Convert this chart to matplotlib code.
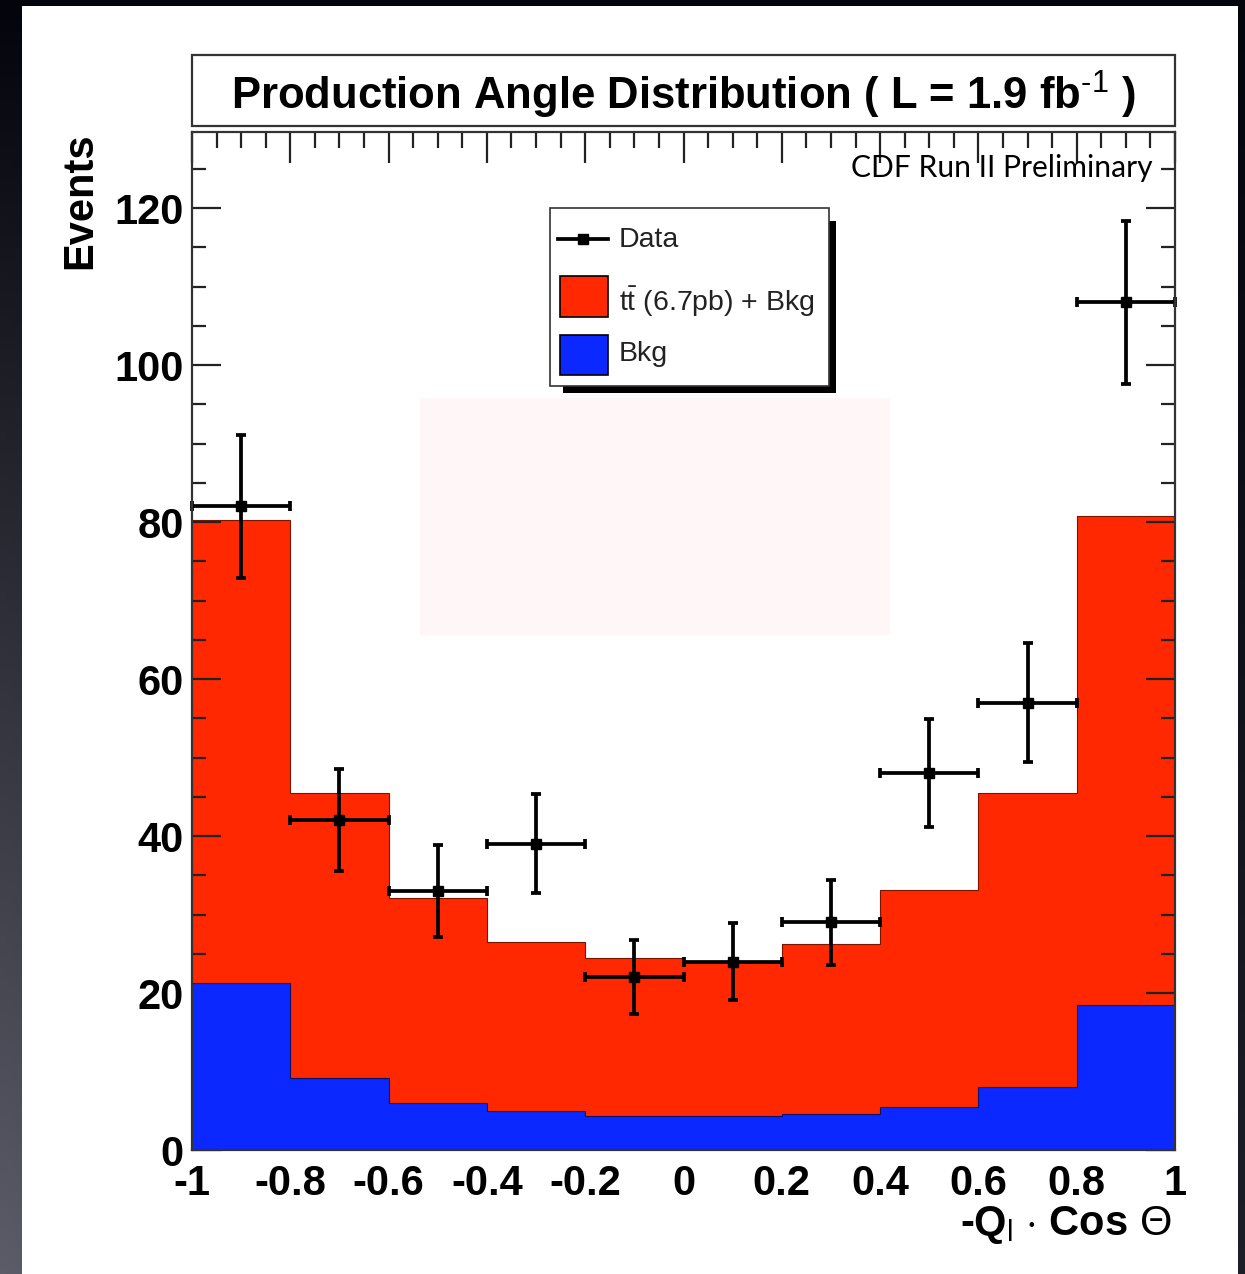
import numpy as np
import matplotlib
matplotlib.use("Agg")
import matplotlib.pyplot as plt
from matplotlib.patches import Rectangle
from matplotlib.lines import Line2D
from matplotlib import font_manager
from matplotlib.ticker import MultipleLocator

# ---------------- data ----------------
bin_edges = [-1.0, -0.8, -0.6, -0.4, -0.2, 0.0, 0.2, 0.4, 0.6, 0.8, 1.0]
ttbar_plus_bkg = [80.3, 45.5, 32.1, 26.5, 24.5, 23.9, 26.2, 33.1, 45.5, 80.8]
bkg = [21.3, 9.2, 6.0, 5.0, 4.3, 4.3, 4.6, 5.5, 8.0, 18.5]
data_counts = [82, 42, 33, 39, 22, 24, 29, 48, 57, 108]
data_err = [9.1, 6.5, 5.8, 6.3, 4.7, 4.9, 5.4, 6.9, 7.6, 10.4]
x_ticks = [-1, -0.8, -0.6, -0.4, -0.2, 0, 0.2, 0.4, 0.6, 0.8, 1]
x_tick_labels = ["-1", "-0.8", "-0.6", "-0.4", "-0.2", "0", "0.2", "0.4", "0.6", "0.8", "1"]
y_ticks = [0, 20, 40, 60, 80, 100, 120]
y_tick_labels = ["0", "20", "40", "60", "80", "100", "120"]

W, H = 1245, 1274
DPI = 100
RED = "#ff2800"
BLUE = "#0a28ff"

names = {f.name for f in font_manager.fontManager.ttflist}
TITLE_FONT = "Liberation Sans Narrow" if "Liberation Sans Narrow" in names else "Liberation Sans"
TITLE_SIZE = 33 if TITLE_FONT == "Liberation Sans Narrow" else 31.4
SANS = "Liberation Sans"
GILL = "Lato" if "Lato" in names else "DejaVu Sans"

plt.rcParams["mathtext.fontset"] = "custom"
plt.rcParams["mathtext.rm"] = SANS
plt.rcParams["mathtext.bf"] = SANS + ":bold"
plt.rcParams["mathtext.it"] = SANS + ":italic"

def fx(px):
    return px / W

def fy(py):
    return 1 - py / H

fig = plt.figure(figsize=(W / DPI, H / DPI), dpi=DPI)

# background (dark vignette + white panel)
bgax = fig.add_axes([0, 0, 1, 1], zorder=-10)
yy, xx = np.mgrid[0:1:200j, 0:1:200j]
top = np.array([4, 4, 12]) / 255.0
bot = np.array([92, 92, 104]) / 255.0
t = (yy * (1 - 0.7 * xx))[..., None]
grad = top + (bot - top) * t
bgax.imshow(grad, extent=[0, 1, 0, 1], aspect="auto", origin="upper")
bgax.add_patch(Rectangle((fx(22), fy(1274)), fx(1238) - fx(22), fy(6) - fy(1274),
                         transform=fig.transFigure, facecolor="white", edgecolor="none"))
# faint pink artefact
bgax.add_patch(Rectangle((fx(420), fy(635)), fx(890) - fx(420), fy(398) - fy(635),
                         transform=fig.transFigure, facecolor="#fff7f7", edgecolor="none"))
bgax.set_xlim(0, 1)
bgax.set_ylim(0, 1)
bgax.axis("off")

# main axes
L, R, T, B = 192, 1175, 132, 1150
ax = fig.add_axes([fx(L), fy(B), fx(R) - fx(L), fy(T) - fy(B)])
ax.patch.set_alpha(0)

ax.stairs(ttbar_plus_bkg, bin_edges, fill=True, baseline=0, color=RED, zorder=1)
ax.stairs(ttbar_plus_bkg, bin_edges, fill=False, baseline=None, color="#7a1500", lw=0.8, zorder=1.1)
ax.stairs(bkg, bin_edges, fill=True, baseline=0, color=BLUE, zorder=2)
ax.stairs(bkg, bin_edges, fill=False, baseline=None, color="#101060", lw=0.8, zorder=2.1)

centers = [(bin_edges[i] + bin_edges[i + 1]) / 2 for i in range(len(data_counts))]
half_w = [(bin_edges[i + 1] - bin_edges[i]) / 2 for i in range(len(data_counts))]
ax.errorbar(centers, data_counts, yerr=data_err, xerr=half_w, fmt="s", color="black",
            ms=7, lw=2.7, capsize=3.5, capthick=2.7, zorder=5, clip_on=False)

ax.set_xlim(-1, 1)
ax.set_ylim(0, 129.7)
ax.set_xticks(x_ticks)
ax.set_xticklabels(x_tick_labels)
ax.set_yticks(y_ticks)
ax.set_yticklabels(y_tick_labels)
ax.xaxis.set_minor_locator(MultipleLocator(0.05))
ax.yaxis.set_minor_locator(MultipleLocator(5))

ax.tick_params(axis="x", which="both", direction="in", top=True, bottom=False,
               labelbottom=True, pad=10, width=1.6, color="#222222")
ax.tick_params(axis="x", which="major", length=22)
ax.tick_params(axis="x", which="minor", length=11.5)
ax.tick_params(axis="y", which="both", direction="in", left=True, right=True,
               pad=6, width=1.6, color="#222222")
ax.tick_params(axis="y", which="major", length=21)
ax.tick_params(axis="y", which="minor", length=10)
for lab in ax.get_xticklabels() + ax.get_yticklabels():
    lab.set_fontfamily(SANS)
    lab.set_fontweight("bold")
    lab.set_fontsize(30)
for sp in ax.spines.values():
    sp.set_linewidth(1.6)
    sp.set_color("#333333")
    sp.set_zorder(6)

# CDF label
fig.text(fx(1153), fy(168), "CDF Run II Preliminary", family=GILL, fontsize=21.6,
         ha="right", va="center", color="black")

# title box
fig.patches.append(Rectangle((fx(192), fy(126)), fx(1175) - fx(192), fy(55) - fy(126),
                             transform=fig.transFigure, facecolor="white",
                             edgecolor="#333333", lw=1.6))
fig.text(fx(683), fy(95), r"Production Angle Distribution ( L = 1.9 fb$^{\text{-1}}$ )",
         family=TITLE_FONT, fontweight="bold", fontsize=TITLE_SIZE, ha="center", va="center")

# axis labels
fig.text(fx(80), fy(132), "Events", rotation=90, family=SANS, fontweight="bold",
         fontsize=30, ha="center", va="top")
fig.text(fx(1172), fy(1225), r"-Q$_\mathrm{l}$ $\cdot$ Cos $\Theta$", family=SANS,
         fontweight="bold", fontsize=30, ha="right", va="center")

# legend (manual, ROOT style with shadow)
fig.patches.append(Rectangle((fx(563), fy(393)), fx(836) - fx(563), fy(221) - fy(393),
                             transform=fig.transFigure, facecolor="black", edgecolor="none", zorder=7))
fig.patches.append(Rectangle((fx(550), fy(386)), fx(829) - fx(550), fy(208) - fy(386),
                             transform=fig.transFigure, facecolor="white", edgecolor="#333333",
                             lw=1.2, zorder=8))
fig.lines.append(Line2D([fx(558), fx(608)], [fy(239), fy(239)], transform=fig.transFigure,
                        color="black", lw=2.7, zorder=9))
fig.lines.append(Line2D([fx(583)], [fy(239)], transform=fig.transFigure, color="black",
                        marker="s", ms=7, zorder=9))
fig.patches.append(Rectangle((fx(560), fy(317)), fx(608) - fx(560), fy(276) - fy(317),
                             transform=fig.transFigure, facecolor=RED, edgecolor="black",
                             lw=1.2, zorder=9))
fig.patches.append(Rectangle((fx(560), fy(375)), fx(608) - fx(560), fy(335) - fy(375),
                             transform=fig.transFigure, facecolor=BLUE, edgecolor="black",
                             lw=1.2, zorder=9))
fig.text(fx(619), fy(240), "Data", family=SANS, fontsize=20.5, ha="left", va="center",
         color="#222222", zorder=10)
fig.text(fx(619), fy(302), r"t$\bar{\mathrm{t}}$ (6.7pb) + Bkg", family=SANS, fontsize=20.5,
         ha="left", va="center", color="#222222", zorder=10)
fig.text(fx(619), fy(354), "Bkg", family=SANS, fontsize=20.5, ha="left", va="center",
         color="#222222", zorder=10)

fig.savefig("out.png", dpi=DPI)
